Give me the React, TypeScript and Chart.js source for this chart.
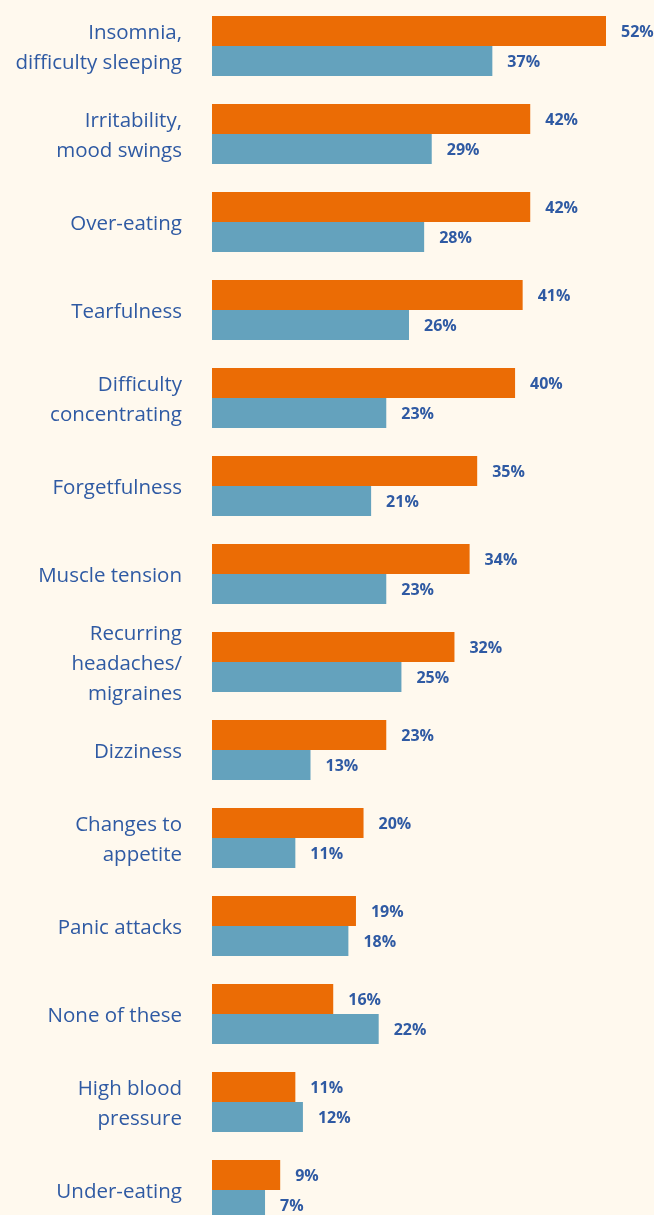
import React, { useEffect, useRef } from "react";
import { Chart, registerables } from "chart.js";

Chart.register(...registerables);

const categories: (string | string[])[] = [
  ["Insomnia,", "difficulty sleeping"],
  ["Irritability,", "mood swings"],
  "Over-eating",
  "Tearfulness",
  ["Difficulty", "concentrating"],
  "Forgetfulness",
  "Muscle tension",
  ["Recurring", "headaches/", "migraines"],
  "Dizziness",
  ["Changes to", "appetite"],
  "Panic attacks",
  "None of these",
  ["High blood", "pressure"],
  "Under-eating",
];

const seriesOrange = [52, 42, 42, 41, 40, 35, 34, 32, 23, 20, 19, 16, 11, 9];
const seriesBlue = [37, 29, 28, 26, 23, 21, 23, 25, 13, 11, 18, 22, 12, 7];

const BG = "#FFF9EE";
const ORANGE = "#EB6C05";
const BLUE = "#64A2BD";
const TEXT = "#2F5AA3";
const FONT = "'Open Sans', Lato, sans-serif";

const valueLabels = {
  id: "valueLabels",
  afterDatasetsDraw(chart: any) {
    const ctx = chart.ctx;
    ctx.save();
    ctx.font = `bold 16px ${FONT}`;
    ctx.fillStyle = TEXT;
    ctx.textAlign = "left";
    ctx.textBaseline = "middle";
    chart.data.datasets.forEach((ds: any, di: number) => {
      const meta = chart.getDatasetMeta(di);
      meta.data.forEach((bar: any, i: number) => {
        ctx.fillText(`${ds.data[i]}%`, bar.x + 15, bar.y + 1);
      });
    });
    ctx.restore();
  },
};

export default function App() {
  const ref = useRef<HTMLCanvasElement>(null);
  useEffect(() => {
    if (!ref.current) return;
    const chart = new Chart(ref.current, {
      type: "bar",
      data: {
        labels: categories,
        datasets: [
          {
            label: "Orange",
            data: seriesOrange,
            backgroundColor: ORANGE,
            borderWidth: 0,
            categoryPercentage: 60 / 88,
            barPercentage: 1,
          },
          {
            label: "Blue",
            data: seriesBlue,
            backgroundColor: BLUE,
            borderWidth: 0,
            categoryPercentage: 60 / 88,
            barPercentage: 1,
          },
        ],
      },
      options: {
        indexAxis: "y",
        animation: false,
        responsive: true,
        maintainAspectRatio: false,
        layout: { padding: { top: 2, bottom: 6, left: 0, right: 0 } },
        plugins: {
          legend: { display: false },
          tooltip: { enabled: false },
        },
        scales: {
          x: {
            display: false,
            min: 0,
            max: 442 / (394 / 52),
            grid: { display: false },
          },
          y: {
            afterFit(scale: any) {
              scale.width = 212;
              scale.paddingTop = 0;
              scale.paddingBottom = 0;
            },
            grid: { display: false, drawTicks: false },
            border: { display: false },
            ticks: {
              autoSkip: false,
              padding: 30,
              labelOffset: 2,
              color: TEXT,
              font: { family: FONT, size: 20.5, lineHeight: 1.46 },
            },
          },
        },
      },
      plugins: [valueLabels],
    });
    return () => chart.destroy();
  }, []);

  return (
    <div
      style={{
        position: "absolute",
        left: 0,
        top: 0,
        width: 654,
        height: 1215,
        overflow: "hidden",
        background: BG,
      }}
    >
      <div style={{ position: "relative", width: 654, height: 1240 }}>
        <canvas ref={ref} />
      </div>
    </div>
  );
}
